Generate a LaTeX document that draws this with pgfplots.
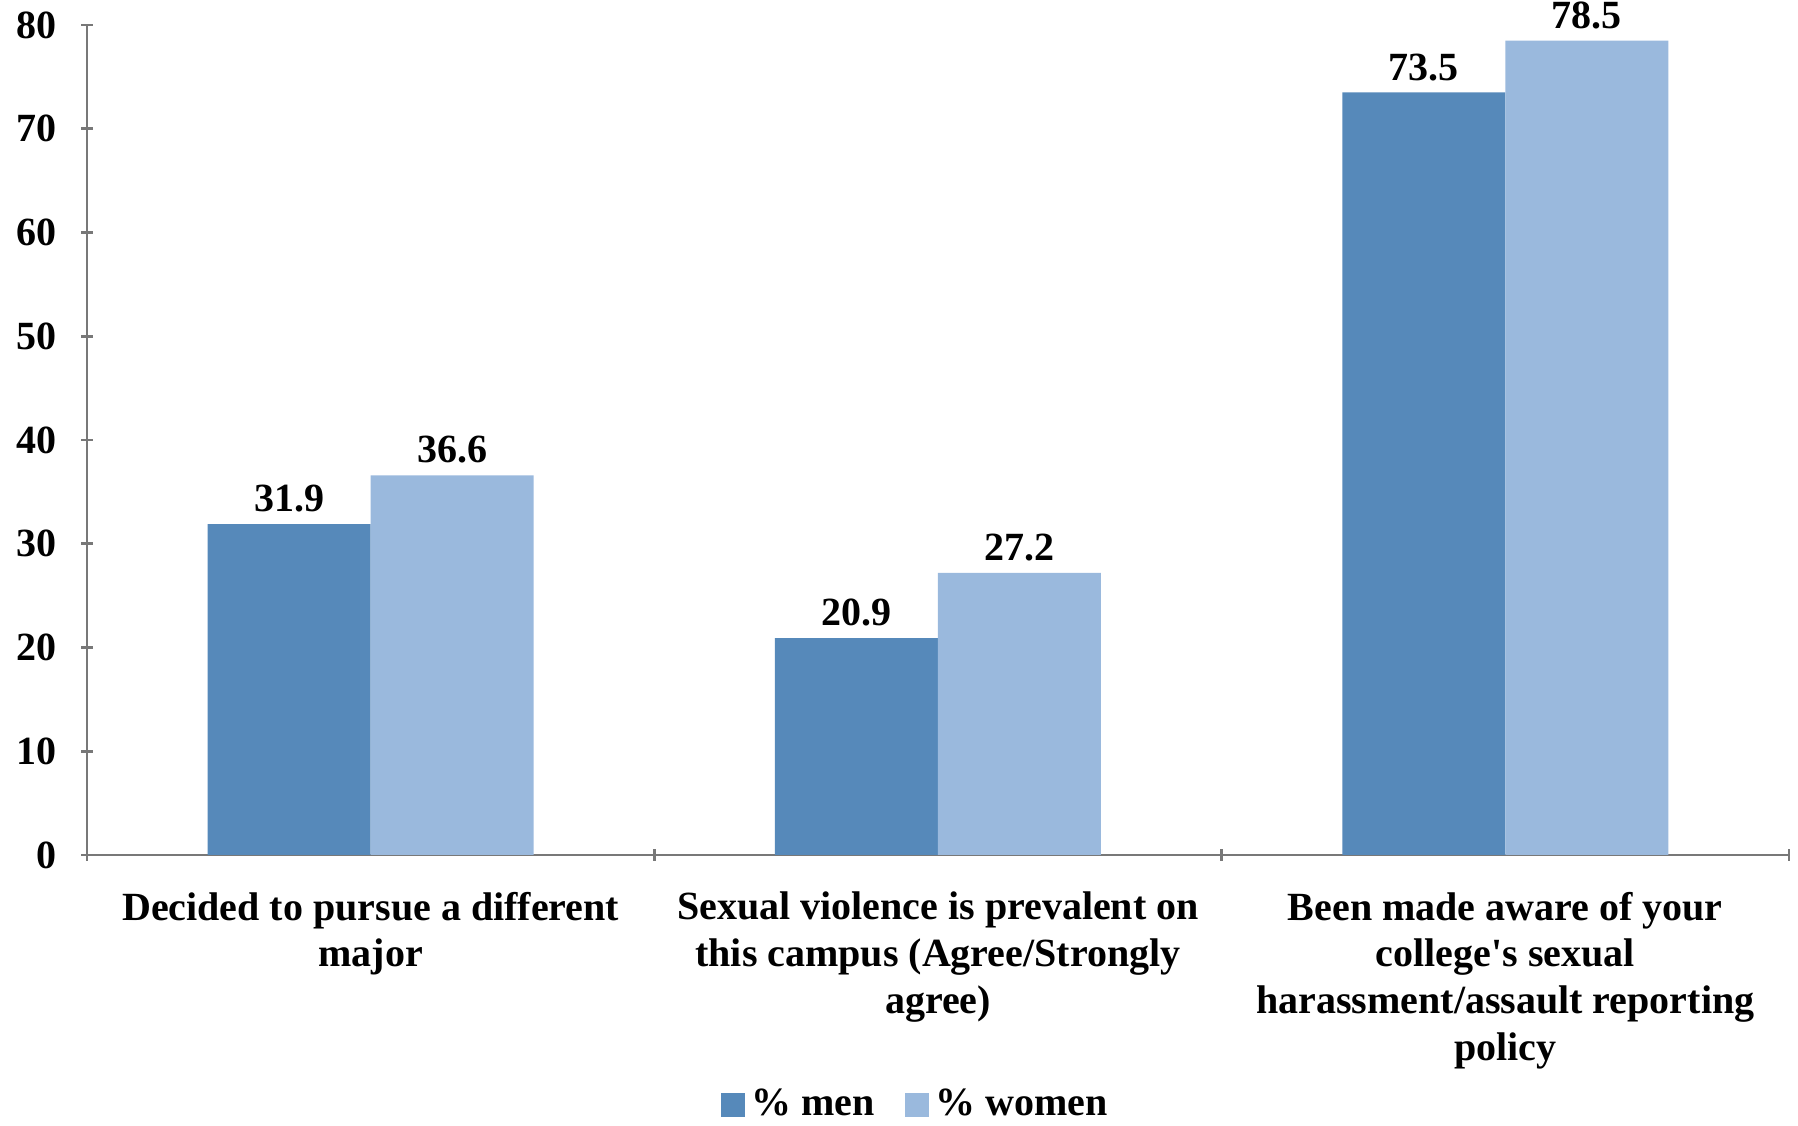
\documentclass[border=0pt]{standalone}
\usepackage{pgfplots}
\pgfplotsset{compat=1.18}
\usepackage{fontspec}
\setmainfont{Liberation Serif}
\definecolor{men}{RGB}{86,137,186}
\definecolor{women}{RGB}{154,185,221}
\definecolor{axgray}{RGB}{120,120,120}
\begin{document}
\begin{tikzpicture}
\begin{axis}[
  scale only axis,
  width=510.6pt, height=249pt,
  ybar=0pt, bar width=48.9pt,
  ymin=0, ymax=80, ytick={0,10,...,80},
  xmin=-0.5, xmax=2.5,
  xtick={0,1,2},
  xticklabels={{Decided to pursue a different\\major},
               {Sexual violence is prevalent on\\this campus (Agree/Strongly\\agree)},
               {Been made aware of your\\college\textquotesingle s sexual\\harassment/assault reporting\\policy}},
  minor xtick={-0.5,0.5,1.5,2.5},
  x tick style={draw=none},
  minor x tick style={draw=axgray, line width=0.8pt},
  minor tick length=3.5pt,
  major tick length=3.5pt,
  tick align=outside,
  y tick style={draw=axgray, line width=0.8pt},
  axis x line=bottom, axis y line=left,
  axis line style={draw=axgray, line width=0.8pt, -},
  xticklabel style={align=center, font=\bfseries\fontsize{12}{14}\selectfont, yshift=-5.8pt},
  yticklabel style={font=\bfseries\fontsize{12}{14}\selectfont, xshift=-4pt},
  /pgf/number format/assume math mode=true,
  nodes near coords,
  nodes near coords style={font=\bfseries\fontsize{12}{14}\selectfont, text=black},
  point meta=explicit symbolic,
  clip=false,
  legend columns=2,
  legend style={at={(rel axis cs:0.488,-0.301)}, anchor=center, draw=none, fill=none,
    font=\bfseries\fontsize{12}{14}\selectfont,
    /tikz/every even column/.append style={column sep=7pt}},
  legend image code/.code={\fill[#1] (0pt,-3.6pt) rectangle (7.2pt,3.6pt);},
]
\addplot[fill=men, draw=none] coordinates {(0,31.9)[31.9] (1,20.9)[20.9] (2,73.5)[73.5]};
\addplot[fill=women, draw=none] coordinates {(0,36.6)[36.6] (1,27.2)[27.2] (2,78.5)[78.5]};
\legend{\% men, \% women}
\coordinate (BL) at (rel axis cs:-0.0511,-0.3265);
\coordinate (TR) at (rel axis cs:1.00529,1.0301);
\end{axis}
\pgfresetboundingbox
\path[use as bounding box] (BL) rectangle (TR);
\end{tikzpicture}
\end{document}
